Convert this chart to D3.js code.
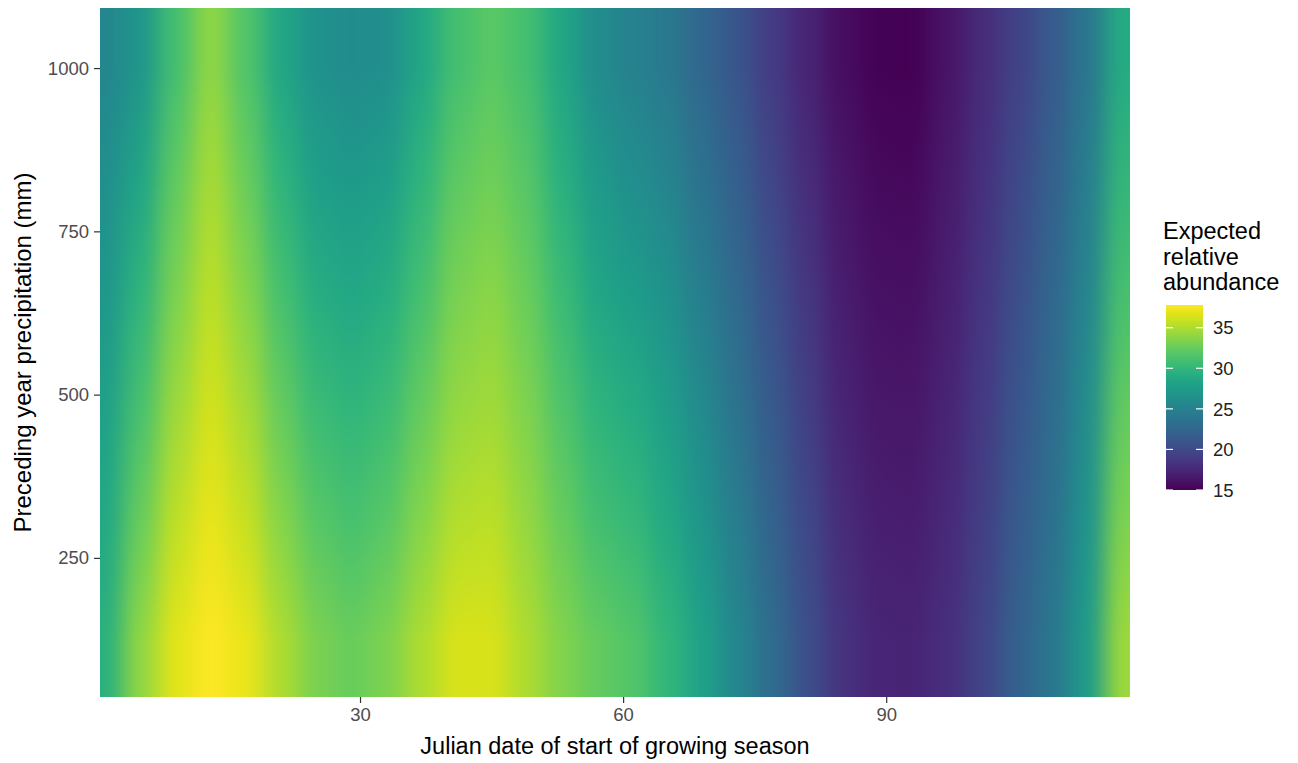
<!DOCTYPE html>
<html>
<head>
<meta charset="utf-8">
<script src="https://cdn.jsdelivr.net/npm/d3@7"></script>
<style>
  html, body { margin: 0; padding: 0; background: #fff; }
  svg { display: block; font-family: "Liberation Sans", Arial, sans-serif; }
</style>
</head>
<body>
<svg id="chart" width="1298" height="763"></svg>
<script>
// ---- Data ----
// Julian day of each column centre
const days = [1,5,9,13,17,21,25,29,33,37,41,45,49,53,57,61,65,69,73,77,81,85,89,93,97,101,105,109,113,117];
// Preceding-year precipitation (mm) of each row centre
const precip = [125, 300, 475, 650, 825, 1000];
// Expected relative abundance, one array per precipitation row
const row125  = [29.5,34.0,36.8,37.8,37.0,35.0,33.2,32.5,33.3,35.0,36.4,36.4,35.0,33.5,32.3,31.6,30.0,28.0,25.5,23.0,20.5,18.3,17.4,17.3,18.0,19.6,22.0,24.0,27.5,34.5];
const row300  = [28.7,32.6,35.6,37.0,35.9,33.7,31.9,31.2,31.9,33.7,35.3,35.5,34.2,32.5,31.0,30.3,28.8,26.9,24.6,22.2,19.9,17.8,16.9,16.8,17.6,19.2,21.5,23.5,26.8,33.4];
const row475  = [27.9,31.2,34.5,36.3,34.8,32.4,30.5,29.9,30.5,32.4,34.2,34.6,33.4,31.5,29.8,29.0,27.7,25.8,23.7,21.4,19.2,17.3,16.5,16.4,17.3,18.9,21.0,23.0,26.1,32.3];
const row650  = [27.1,29.8,33.3,35.5,33.7,31.1,29.2,28.6,29.1,31.1,33.2,33.8,32.6,30.5,28.5,27.6,26.5,24.7,22.8,20.6,18.6,16.8,16.0,15.9,16.9,18.5,20.5,22.5,25.4,31.2];
const row825  = [26.3,28.4,32.2,34.8,32.6,29.8,27.8,27.3,27.7,29.8,32.1,32.9,31.8,29.5,27.3,26.3,25.4,23.6,21.9,19.8,17.9,16.3,15.6,15.5,16.6,18.2,20.0,22.0,24.7,30.1];
const row1000 = [25.5,27.0,31.0,34.0,31.5,28.5,26.5,26.0,26.3,28.5,31.0,32.0,31.0,28.5,26.0,25.0,24.2,22.5,21.0,19.0,17.3,15.8,15.1,15.0,16.2,17.8,19.5,21.5,24.0,29.0];
const rows = [row125, row300, row475, row650, row825, row1000];

const xTicks = [30, 60, 90];
const yTicks = [250, 500, 750, 1000];
const legendTicks = [15, 20, 25, 30, 35];
const legendTitle = ["Expected", "relative", "abundance"];
const xTitle = "Julian date of start of growing season";
const yTitle = "Preceding year precipitation (mm)";

// ---- Layout ----
const svg = d3.select("#chart");
const panel = { left: 100, right: 1130, top: 8, bottom: 697 };
const x = d3.scaleLinear().domain([0.35, 117.8]).range([panel.left, panel.right]);
const y = d3.scaleLinear().domain([37, 1092]).range([panel.bottom, panel.top]);
const color = d3.scaleSequential(d3.interpolateViridis).domain([15, 37.8]).clamp(true);

const defs = svg.append("defs");
defs.append("clipPath").attr("id", "panelClip")
  .append("rect")
  .attr("x", panel.left).attr("y", panel.top)
  .attr("width", panel.right - panel.left).attr("height", panel.bottom - panel.top);
const blur = defs.append("filter").attr("id", "smooth")
  .attr("filterUnits", "userSpaceOnUse")
  .attr("color-interpolation-filters", "sRGB")
  .attr("x", -100).attr("y", -100).attr("width", 1500).attr("height", 1000);
blur.append("feGaussianBlur").attr("stdDeviation", "11 0");

// ---- Heat map: one column per day, rows blended through a vertical gradient ----
const dayStep = days[1] - days[0];
const pad = 120;
const yA = y(precip[0]), yB = y(precip[precip.length - 1]);
const columns = days.map((day, ci) => ({
  day, ci,
  cells: precip.map((p, ri) => ({ p, v: rows[ri][ci] }))
}));
columns.forEach(col => {
  const g = defs.append("linearGradient").attr("id", "col" + col.ci)
    .attr("gradientUnits", "userSpaceOnUse")
    .attr("x1", 0).attr("x2", 0).attr("y1", yA).attr("y2", yB);
  g.selectAll("stop").data(col.cells).join("stop")
    .attr("offset", d => (y(d.p) - yA) / (yB - yA))
    .attr("stop-color", d => color(d.v));
});
const clipG = svg.append("g").attr("clip-path", "url(#panelClip)");
const heat = clipG.append("g").attr("filter", "url(#smooth)");
heat.selectAll("rect").data(columns).join("rect")
  .attr("x", d => x(d.day - dayStep / 2) - (d.ci === 0 ? pad : 0))
  .attr("width", d => x(d.day + dayStep / 2) - x(d.day - dayStep / 2)
        + (d.ci === 0 ? pad : 0) + (d.ci === days.length - 1 ? pad : 0) + 0.6)
  .attr("y", panel.top)
  .attr("height", panel.bottom - panel.top)
  .attr("fill", d => `url(#col${d.ci})`);

// ---- Axes ----
const xAxis = svg.append("g").attr("transform", `translate(0,${panel.bottom})`)
  .call(d3.axisBottom(x).tickValues(xTicks).tickFormat(d3.format("d")).tickSize(6).tickPadding(5));
const yAxis = svg.append("g").attr("transform", `translate(${panel.left},0)`)
  .call(d3.axisLeft(y).tickValues(yTicks).tickFormat(d3.format("d")).tickSize(6).tickPadding(5));
[xAxis, yAxis].forEach(a => {
  a.select(".domain").remove();
  a.selectAll(".tick line").attr("stroke", "#333333").attr("stroke-width", 1.2);
  a.selectAll(".tick text").attr("fill", "#4d4d4d")
    .style("font-size", "18.5px").style("font-family", "'Liberation Sans', Arial, sans-serif");
});

svg.append("text")
  .attr("x", (panel.left + panel.right) / 2).attr("y", 754)
  .attr("text-anchor", "middle").attr("fill", "#000")
  .style("font-size", "23.5px").text(xTitle);
svg.append("text")
  .attr("transform", `translate(31,${(panel.top + panel.bottom) / 2}) rotate(-90)`)
  .attr("text-anchor", "middle").attr("fill", "#000")
  .style("font-size", "24px").text(yTitle);

// ---- Legend ----
const lg = { x: 1166, w: 37, top: 305, bottom: 490 };
const lscale = d3.scaleLinear().domain([15, 37.8]).range([lg.bottom, lg.top]);
const grad = defs.append("linearGradient").attr("id", "legendGrad")
  .attr("x1", 0).attr("y1", 1).attr("x2", 0).attr("y2", 0);
d3.range(0, 1.0001, 0.05).forEach(t => {
  grad.append("stop").attr("offset", t)
    .attr("stop-color", color(15 + t * (37.8 - 15)));
});
svg.append("rect").attr("x", lg.x).attr("y", lg.top)
  .attr("width", lg.w).attr("height", lg.bottom - lg.top)
  .attr("fill", "url(#legendGrad)");
const lt = svg.append("g");
legendTicks.forEach(t => {
  const ty = lscale(t);
  lt.append("line").attr("x1", lg.x).attr("x2", lg.x + 7).attr("y1", ty).attr("y2", ty)
    .attr("stroke", "#fff").attr("stroke-width", 1.2);
  lt.append("line").attr("x1", lg.x + lg.w - 7).attr("x2", lg.x + lg.w).attr("y1", ty).attr("y2", ty)
    .attr("stroke", "#fff").attr("stroke-width", 1.2);
  lt.append("text").attr("x", lg.x + lg.w + 10).attr("y", ty).attr("dy", "0.36em")
    .attr("fill", "#222").style("font-size", "18.5px").text(t);
});
legendTitle.forEach((s, i) => {
  svg.append("text").attr("x", 1163).attr("y", 239 + i * 25.5)
    .attr("fill", "#000").style("font-size", "23.5px").text(s);
});
</script>
</body>
</html>
